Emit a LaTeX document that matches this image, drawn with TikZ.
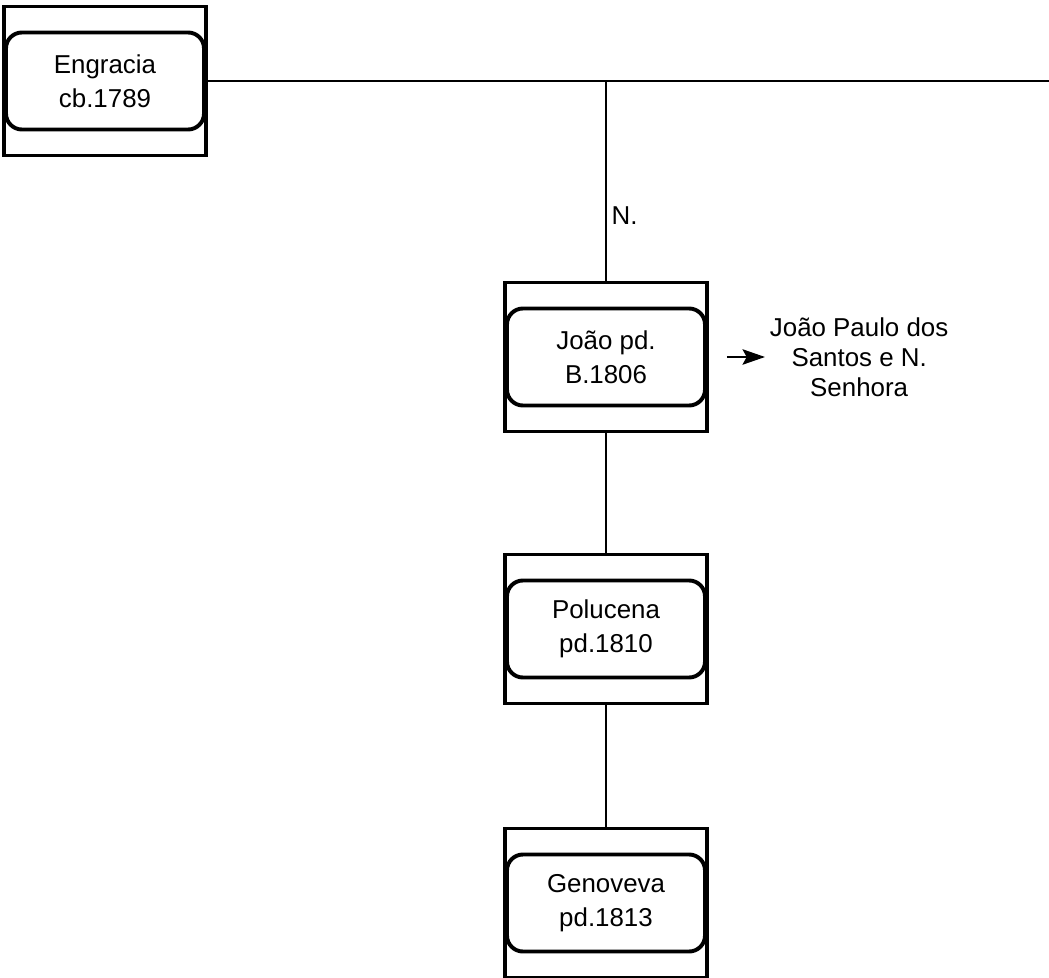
\documentclass[tikz,border=0pt]{standalone}
\usepackage{fontspec}
\setmainfont{Liberation Sans}
\usetikzlibrary{arrows.meta,positioning,fit}

\tikzset{
    person/.style={draw, line width=2.8pt, rounded corners=0.4cm, minimum width=4.95cm,
        minimum height=2.425cm, align=center, font=\fontsize{18.4}{24}\selectfont},
    frame/.style={draw, line width=2.8pt, inner xsep=0pt, inner ysep=0.6cm},
    link/.style={line width=1.4pt},
}

\begin{document}
\begin{tikzpicture}[x=0.025cm, y=-0.025cm]
        \useasboundingbox (0, 0) rectangle (1049, 977);
        % one card per child, the frame drawn round it
        \node [person] (engracia) at (105, 81) {Engracia\\cb.1789};
        \node [frame, fit=(engracia)] (engracia-box) {};
        \node [person] (joao) at (606, 357) {João pd.\\B.1806};
        \node [frame, fit=(joao)] (joao-box) {};
        \node [person] (polucena) at (606, 629) {Polucena\\pd.1810};
        \node [frame, fit=(polucena)] (polucena-box) {};
        \node [person] (genoveva) at (606, 903) {Genoveva\\pd.1813};
        \node [frame, fit=(genoveva)] (genoveva-box) {};
        % marriage line
        \coordinate (edge) at (1049, 83);
        \draw [line width=2.1pt] (engracia-box.east) -- (engracia-box.east -| edge);
        \coordinate (union) at (engracia-box.east -| joao-box.north);
        \draw [link] (union) -- node [right, pos=0.675, font=\fontsize{18.4}{24}\selectfont] {N.} (joao-box.north);
        \draw [link] (joao-box.south) -- (polucena-box.north);
        \draw [link] (polucena-box.south) -- (genoveva-box.north);
        % spouse of Joao
        \node [right=1.4cm of joao-box, align=center, font=\fontsize{18.4}{21.3}\selectfont] (spouse) {João Paulo dos\\Santos e N.\\Senhora};
        \draw [link, -{Stealth[length=16pt, width=11pt, inset=3pt]}] ([xshift=0.45cm]joao-box.east) -- (spouse.west);
    \end{tikzpicture}
\end{document}
